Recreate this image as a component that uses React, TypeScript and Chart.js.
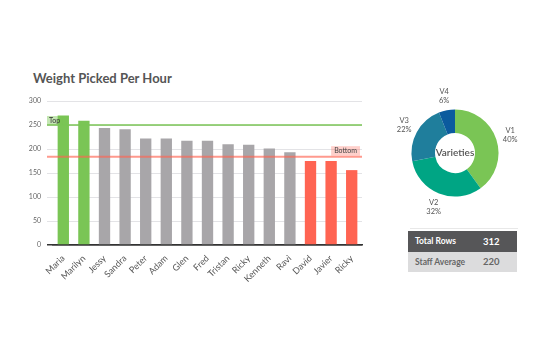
import React, { useEffect, useRef } from "react";
import { Chart, registerables } from "chart.js";

Chart.register(...registerables);

const names = ["Maria", "Marilyn", "Jessy", "Sandra", "Peter", "Adam", "Glen", "Fred", "Tristan", "Ricky", "Kenneth", "Ravi", "David", "Javier", "Ricky"];
const weights = [270, 259, 244, 241, 222, 222, 217, 217, 210, 209, 201, 193, 175, 175, 156];
const topLine = 250;
const bottomLine = 184;
const yTicks = [0, 50, 100, 150, 200, 250, 300];

const varieties = ["V1", "V2", "V3", "V4"];
const varietyShares = [40, 32, 22, 6];
const varietyColors = ["#7ac555", "#00a584", "#1f7e9c", "#0b5b9e"];

const summaryLabels = ["Total Rows", "Staff Average"];
const summaryValues = [312, 220];

const FONT = "Lato, 'Open Sans', sans-serif";
const GREEN = "#7ac555";
const GRAY = "#a8a6a9";
const RED = "#ff6452";

const refLines = {
  id: "refLines",
  afterDatasetsDraw(chart: any) {
    const { ctx, chartArea, scales } = chart;
    const y = scales.y;
    const left = chartArea.left - 6;
    const right = chartArea.right;
    ctx.save();
    // top line
    const yt = y.getPixelForValue(topLine);
    ctx.strokeStyle = GREEN;
    ctx.lineWidth = 1.5;
    ctx.beginPath();
    ctx.moveTo(left, yt);
    ctx.lineTo(right, yt);
    ctx.stroke();
    ctx.font = `7px ${FONT}`;
    ctx.textBaseline = "middle";
    ctx.textAlign = "left";
    let w = ctx.measureText("Top").width + 4;
    ctx.fillStyle = "rgba(122,197,85,0.45)";
    ctx.fillRect(left, yt - 9, w, 9);
    ctx.fillStyle = "#333";
    ctx.fillText("Top", left + 2, yt - 4.3);
    // bottom line
    const yb = y.getPixelForValue(bottomLine);
    ctx.strokeStyle = "rgba(255,100,82,0.65)";
    ctx.lineWidth = 2;
    ctx.beginPath();
    ctx.moveTo(left, yb);
    ctx.lineTo(right, yb);
    ctx.stroke();
    w = ctx.measureText("Bottom").width + 6;
    ctx.fillStyle = "rgba(255,100,82,0.3)";
    ctx.fillRect(right - w - 2, yb - 10.5, w, 9.5);
    ctx.fillStyle = "#444";
    ctx.fillText("Bottom", right - w + 1, yb - 5.6);
    ctx.restore();
  },
};

const donutLabels = {
  id: "donutLabels",
  afterDraw(chart: any) {
    const { ctx } = chart;
    const meta = chart.getDatasetMeta(0);
    ctx.save();
    ctx.font = `7.5px ${FONT}`;
    ctx.fillStyle = "#555";
    ctx.textAlign = "center";
    ctx.textBaseline = "middle";
    meta.data.forEach((arc: any, i: number) => {
      const p = arc.getProps(["x", "y", "startAngle", "endAngle", "outerRadius"], true);
      const mid = (p.startAngle + p.endAngle) / 2;
      const r = p.outerRadius + 14.5;
      const cx = p.x + Math.cos(mid) * r;
      const cy = p.y + Math.sin(mid) * r;
      ctx.fillText(varieties[i], cx, cy - 4.6);
      ctx.fillText(varietyShares[i] + "%", cx, cy + 4.8);
    });
    const c = meta.data[0];
    ctx.font = `600 10px ${FONT}`;
    ctx.fillStyle = "#555";
    ctx.fillText("Varieties", c.x, c.y);
    ctx.restore();
  },
};

export default function App() {
  const barRef = useRef<HTMLCanvasElement>(null);
  const donutRef = useRef<HTMLCanvasElement>(null);

  useEffect(() => {
    const colors = weights.map((v) => (v >= topLine ? GREEN : v < bottomLine ? RED : GRAY));
    const bar = new Chart(barRef.current!, {
      type: "bar",
      data: {
        labels: names,
        datasets: [
          {
            data: weights,
            backgroundColor: colors,
            barPercentage: 0.55,
            categoryPercentage: 1,
          },
        ],
      },
      options: {
        responsive: false,
        animation: false,
        devicePixelRatio: 1,
        layout: { padding: { left: 0, top: 101, right: 18, bottom: 0 } },
        plugins: { legend: { display: false }, tooltip: { enabled: false } },
        scales: {
          x: {
            grid: { display: false },
            border: { display: true, color: "#333", width: 1.5 },
            ticks: {
              color: "#555",
              font: { family: FONT, size: 9 },
              maxRotation: 45,
              minRotation: 45,
              autoSkip: false,
              padding: 0,
            },
            afterFit: (s: any) => {
              s.height = 55;
            },
          },
          y: {
            min: 0,
            max: 300,
            afterBuildTicks: (s: any) => {
              s.ticks = yTicks.map((v) => ({ value: v }));
            },
            border: { display: false },
            grid: {
              color: (c: any) => (c.tick && c.tick.value === 0 ? "#333" : "#e3e3e6"),
              lineWidth: (c: any) => (c.tick && c.tick.value === 0 ? 1.5 : 1),
              tickLength: 6,
            },
            ticks: {
              color: "#666",
              font: { family: FONT, size: 7 },
              padding: 6,
            },
            afterFit: (s: any) => {
              s.width = 53;
            },
          },
        },
      },
      plugins: [refLines],
    });

    const donut = new Chart(donutRef.current!, {
      type: "doughnut",
      data: {
        labels: varieties,
        datasets: [
          {
            data: varietyShares,
            backgroundColor: varietyColors,
            borderWidth: 0,
          },
        ],
      },
      options: {
        responsive: false,
        animation: false,
        devicePixelRatio: 1,
        cutout: "46%",
        layout: { padding: 31.5 },
        plugins: { legend: { display: false }, tooltip: { enabled: false } },
      },
      plugins: [donutLabels],
    });

    return () => {
      bar.destroy();
      donut.destroy();
    };
  }, []);

  return (
    <div style={{ position: "absolute", left: 0, top: 0, width: 552, height: 362, background: "#fff", overflow: "hidden", fontFamily: FONT }}>
      <div style={{ position: "absolute", left: 33, top: 70, fontSize: 13, fontWeight: 700, color: "#555", whiteSpace: "nowrap" }}>
        Weight Picked Per Hour
      </div>
      <canvas ref={barRef} width={380} height={300} style={{ position: "absolute", left: 0, top: 0 }} />
      <canvas ref={donutRef} width={150} height={150} style={{ position: "absolute", left: 380, top: 78 }} />
      <div style={{ position: "absolute", left: 410, top: 228, width: 108, height: 1, background: "#e8e8e8" }} />
      <div style={{ position: "absolute", left: 408, top: 231, width: 109 }}>
        {summaryLabels.map((l, i) => (
          <div
            key={l}
            style={{
              height: 20.5,
              display: "flex",
              alignItems: "center",
              background: i === 0 ? "#565658" : "#dcdcdd",
              color: i === 0 ? "#fff" : "#666",
              fontWeight: 700,
              fontSize: 8.5,
            }}
          >
            <span style={{ marginLeft: 7, width: 68 }}>{l}</span>
            <span style={{ fontSize: 9.5 }}>{summaryValues[i]}</span>
          </div>
        ))}
      </div>
    </div>
  );
}
